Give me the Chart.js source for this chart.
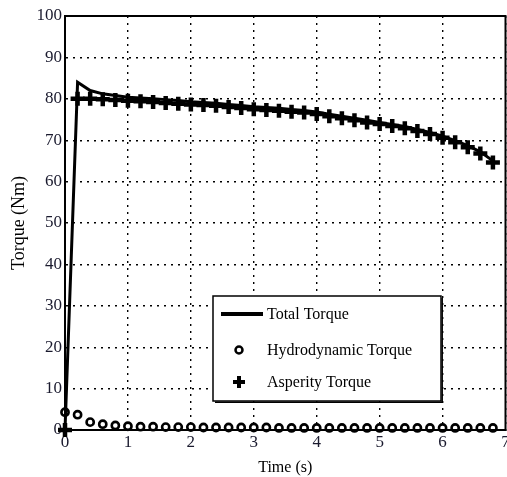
<!DOCTYPE html>
<html>
<head>
<meta charset="utf-8">
<script src="https://cdn.jsdelivr.net/npm/chart.js@4.4.0/dist/chart.umd.min.js"></script>
<style>
  html, body { margin: 0; padding: 0; background: #fff; overflow: hidden; }
  #wrap { width: 517px; height: 477px; }
</style>
</head>
<body>
<div id="wrap"><canvas id="torqueChart" width="517" height="477"></canvas></div>
<script>
// time samples (s)
const times = [0, 0.2, 0.4, 0.6, 0.8, 1.0, 1.2, 1.4, 1.6, 1.8, 2.0, 2.2, 2.4, 2.6, 2.8, 3.0, 3.2, 3.4,
  3.6, 3.8, 4.0, 4.2, 4.4, 4.6, 4.8, 5.0, 5.2, 5.4, 5.6, 5.8, 6.0, 6.2, 6.4, 6.6, 6.8];

// torque values (Nm)
const totalTorque = [0, 84, 82, 81.2, 80.8, 80.4, 80.2, 80.0, 79.8, 79.6, 79.3, 79.1, 78.9, 78.6, 78.4, 78.1,
  77.9, 77.7, 77.4, 77.2, 76.8, 76.3, 75.8, 75.3, 74.8, 74.3, 73.8, 73.3, 72.6, 71.9, 71.0, 69.9, 68.7, 67.2, 65.0];
const hydroTorque = [4.3, 3.7, 1.9, 1.4, 1.1, 0.9, 0.8, 0.8, 0.7, 0.7, 0.7, 0.6, 0.6, 0.6, 0.6, 0.6,
  0.6, 0.5, 0.5, 0.5, 0.5, 0.5, 0.5, 0.5, 0.5, 0.5, 0.5, 0.5, 0.5, 0.5, 0.5, 0.5, 0.5, 0.5, 0.5];
const asperityTorque = [0, 80, 80, 79.9, 79.7, 79.5, 79.4, 79.2, 79.0, 78.8, 78.6, 78.5, 78.3, 78.0, 77.8, 77.5,
  77.3, 77.1, 76.9, 76.7, 76.3, 75.8, 75.3, 74.8, 74.3, 73.9, 73.4, 72.9, 72.2, 71.5, 70.6, 69.5, 68.3, 66.8, 64.6];

const xTicks = [0, 1, 2, 3, 4, 5, 6, 7];
const yTicks = [0, 10, 20, 30, 40, 50, 60, 70, 80, 90, 100];

const serif = 'Liberation Serif';

function toPoints(ys) {
  return times.map((t, i) => ({ x: t, y: ys[i] }));
}

// solid frame around plot area
const framePlugin = {
  id: 'frame',
  afterDatasetsDraw(chart) {
    const a = chart.chartArea;
    const ctx = chart.ctx;
    ctx.save();
    ctx.strokeStyle = '#000';
    ctx.lineWidth = 2;
    ctx.strokeRect(a.left, a.top, a.right - a.left, a.bottom - a.top);
    ctx.restore();
  }
};

// boxed legend inside the plot
const boxLegend = {
  id: 'boxLegend',
  afterDraw(chart) {
    const ctx = chart.ctx;
    const x0 = 213, y0 = 296, w = 228, h = 105;
    ctx.save();
    ctx.fillStyle = '#fff';
    ctx.fillRect(x0, y0, w, h);
    ctx.strokeStyle = '#000';
    ctx.lineWidth = 1.5;
    ctx.strokeRect(x0, y0, w, h);
    // slight shadow on right/bottom
    ctx.beginPath();
    ctx.moveTo(x0 + w + 1.2, y0 + 2);
    ctx.lineTo(x0 + w + 1.2, y0 + h + 1.2);
    ctx.lineTo(x0 + 2, y0 + h + 1.2);
    ctx.stroke();

    ctx.font = '16px "' + serif + '"';
    ctx.fillStyle = '#000';
    ctx.textBaseline = 'middle';
    const labels = chart.data.datasets.map(d => d.label);
    // line sample
    ctx.lineWidth = 4;
    ctx.beginPath();
    ctx.moveTo(221, 314);
    ctx.lineTo(263, 314);
    ctx.stroke();
    ctx.fillText(labels[0], 267, 315);
    // circle sample
    ctx.lineWidth = 2.5;
    ctx.beginPath();
    ctx.arc(239, 350, 3.5, 0, Math.PI * 2);
    ctx.stroke();
    ctx.fillText(labels[1], 267, 351);
    // cross sample
    ctx.lineWidth = 4;
    ctx.beginPath();
    ctx.moveTo(233, 382); ctx.lineTo(245, 382);
    ctx.moveTo(239, 376); ctx.lineTo(239, 388);
    ctx.stroke();
    ctx.fillText(labels[2], 267, 383);
    ctx.restore();
  }
};

new Chart(document.getElementById('torqueChart'), {
  type: 'scatter',
  data: {
    datasets: [
      {
        label: 'Total Torque',
        data: toPoints(totalTorque),
        showLine: true,
        borderColor: '#000',
        borderWidth: 3,
        pointRadius: 0,
        tension: 0,
        clip: false,
        order: 0
      },
      {
        label: 'Hydrodynamic Torque',
        data: toPoints(hydroTorque),
        showLine: false,
        pointStyle: 'circle',
        pointRadius: 3.6,
        borderWidth: 2.6,
        borderColor: '#000',
        backgroundColor: '#fff',
        clip: false,
        order: 2
      },
      {
        label: 'Asperity Torque',
        data: toPoints(asperityTorque),
        showLine: false,
        pointStyle: 'cross',
        pointRadius: 7,
        borderWidth: 4.5,
        borderColor: '#000',
        clip: false,
        order: 1
      }
    ]
  },
  options: {
    responsive: false,
    animation: false,
    layout: { padding: { top: 16, right: 0, left: 0, bottom: 0 } },
    plugins: {
      legend: { display: false },
      tooltip: { enabled: false }
    },
    scales: {
      x: {
        type: 'linear',
        min: 0,
        max: 7,
        afterBuildTicks: s => { s.ticks = xTicks.map(v => ({ value: v })); },
        afterFit: s => { s.height = 47; },
        ticks: {
          color: '#1a1a2e',
          font: { family: serif, size: 17 },
          padding: 2
        },
        grid: {
          color: '#000',
          lineWidth: 1.4,
          drawTicks: false
        },
        border: { display: true, color: '#000', width: 2, dash: [2, 5] },
        title: {
          display: true,
          text: 'Time (s)',
          color: '#000',
          font: { family: serif, size: 16 },
          padding: { top: 4, bottom: 0 }
        }
      },
      y: {
        min: 0,
        max: 100,
        afterBuildTicks: s => { s.ticks = yTicks.map(v => ({ value: v })); },
        afterFit: s => { s.width = 65; },
        ticks: {
          color: '#1a1a2e',
          font: { family: serif, size: 17 },
          padding: 3
        },
        grid: {
          color: '#000',
          lineWidth: 1.4,
          drawTicks: false
        },
        border: { display: true, color: '#000', width: 2, dash: [2, 5] },
        title: {
          display: true,
          text: 'Torque (Nm)',
          color: '#000',
          font: { family: serif, size: 18 },
          padding: { top: 8, bottom: 0 }
        }
      }
    }
  },
  plugins: [framePlugin, boxLegend]
});
</script>
</body>
</html>
